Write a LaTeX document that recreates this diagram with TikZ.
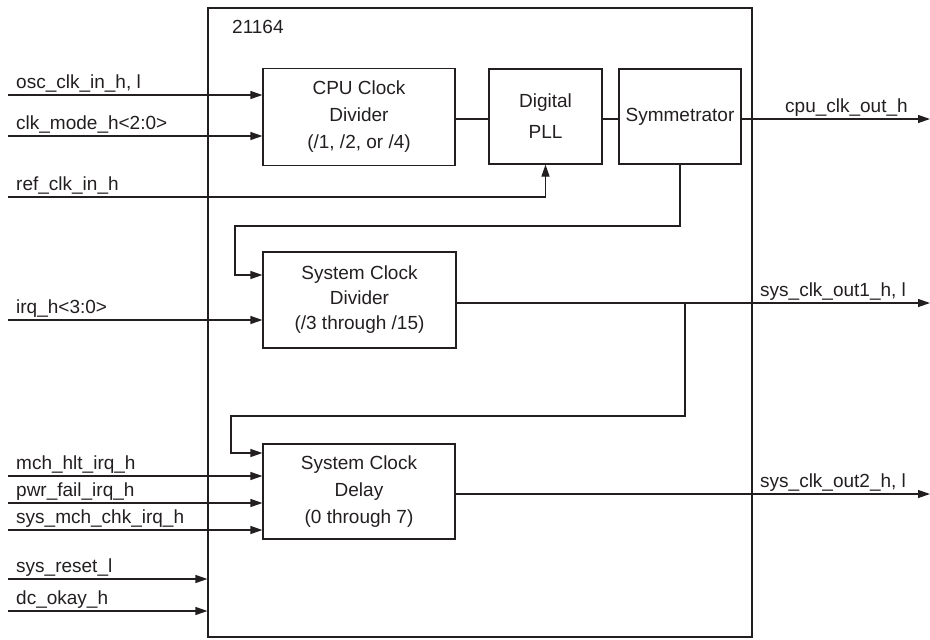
\documentclass[tikz,border=0pt]{standalone}
\usepackage{fontspec}
\setmainfont{Liberation Sans}
\usetikzlibrary{arrows.meta,calc}
\definecolor{ink}{RGB}{35,31,32}
\begin{document}
\begin{tikzpicture}[x=1pt,y=-1pt,
  every node/.style={font=\fontsize{19}{27}\selectfont, inner sep=0pt, text=ink},
  box/.style={draw=ink, line width=1.2pt, align=center},
  wire/.style={draw=ink, line width=1.2pt},
  arr/.style={wire, -{Triangle[length=12pt,width=8pt]}},
  lbl/.style={anchor=base west}]
\useasboundingbox (0,0) rectangle (930,640);
% chip
\node[box, minimum width=544pt, minimum height=629pt] (chip) at (480,322.5) {};
\node[lbl] (chipname) at (232,33) {21164};
% blocks
\node[box, minimum width=192pt, minimum height=97pt] (cpu) at (359,117) {CPU Clock\\Divider\\(/1, /2, or /4)};
\node[box, minimum width=113pt, minimum height=95pt, font=\fontsize{19}{31}\selectfont] (pll) at (545.5,116.5) {Digital\\PLL};
\node[box, minimum width=122pt, minimum height=95pt] (sym) at (680,116.5) {Symmetrator};
\node[box, minimum width=193pt, minimum height=96pt, font=\fontsize{19}{25}\selectfont] (scd) at (359.5,300) {System Clock\\Divider\\(/3 through /15)};
\node[box, minimum width=192pt, minimum height=95pt] (dly) at (359,491.5) {System Clock\\Delay\\(0 through 7)};
% coordinates
\coordinate (osc) at (8,95);
\coordinate (mode) at (8,136);
\coordinate (ref) at (8,197);
\coordinate (irq) at (8,320);
\coordinate (mch) at (8,476);
\coordinate (pwr) at (8,503);
\coordinate (chk) at (8,530);
\coordinate (rst) at (8,579);
\coordinate (dco) at (8,611);
\coordinate (cpuout) at (930,119);
\coordinate (out1) at (930,303);
\coordinate (out2) at (930,494);
\coordinate (fb1) at (235,226);
\coordinate (br) at (685,303);
\coordinate (fb2) at (231,416);
% wires
\draw[arr] (osc) -- (osc -| cpu.west);
\draw[arr] (mode) -- (mode -| cpu.west);
\draw[arr] (ref) -| (pll.south);
\draw[wire] (cpu.east |- cpuout) -- (pll.west |- cpuout);
\draw[wire] (pll.east |- cpuout) -- (sym.west |- cpuout);
\draw[arr] (sym.east |- cpuout) -- (cpuout);
\draw[arr] (sym.south) |- (fb1) |- ($(scd.west)+(0,-25)$);
\draw[arr] (irq) -- (irq -| scd.west);
\draw[arr] (scd.east |- out1) -- (out1);
\draw[arr] (br) |- (fb2) |- ($(dly.west)+(0,-38.5)$);
\draw[arr] (mch) -- (mch -| dly.west);
\draw[arr] (pwr) -- (pwr -| dly.west);
\draw[arr] (chk) -- (chk -| dly.west);
\draw[arr] (dly.east |- out2) -- (out2);
\draw[arr] (rst) -- (rst -| chip.west);
\draw[arr] (dco) -- (dco -| chip.west);
% labels
\node[lbl] (l1) at (16,88) {osc\_clk\_in\_h, l};
\node[lbl] (l2) at (16,129) {clk\_mode\_h<2:0>};
\node[lbl] (l3) at (16,190) {ref\_clk\_in\_h};
\node[lbl] (l4) at (16,313) {irq\_h<3:0>};
\node[lbl] (l5) at (16,469) {mch\_hlt\_irq\_h};
\node[lbl] (l6) at (16,496) {pwr\_fail\_irq\_h};
\node[lbl] (l7) at (16,523) {sys\_mch\_chk\_irq\_h};
\node[lbl] (l8) at (16,572) {sys\_reset\_l};
\node[lbl] (l9) at (16,604) {dc\_okay\_h};
\node[lbl] (r1) at (785,112) {cpu\_clk\_out\_h};
\node[lbl] (r2) at (760,296) {sys\_clk\_out1\_h, l};
\node[lbl] (r3) at (760,487) {sys\_clk\_out2\_h, l};
\end{tikzpicture}
\end{document}
